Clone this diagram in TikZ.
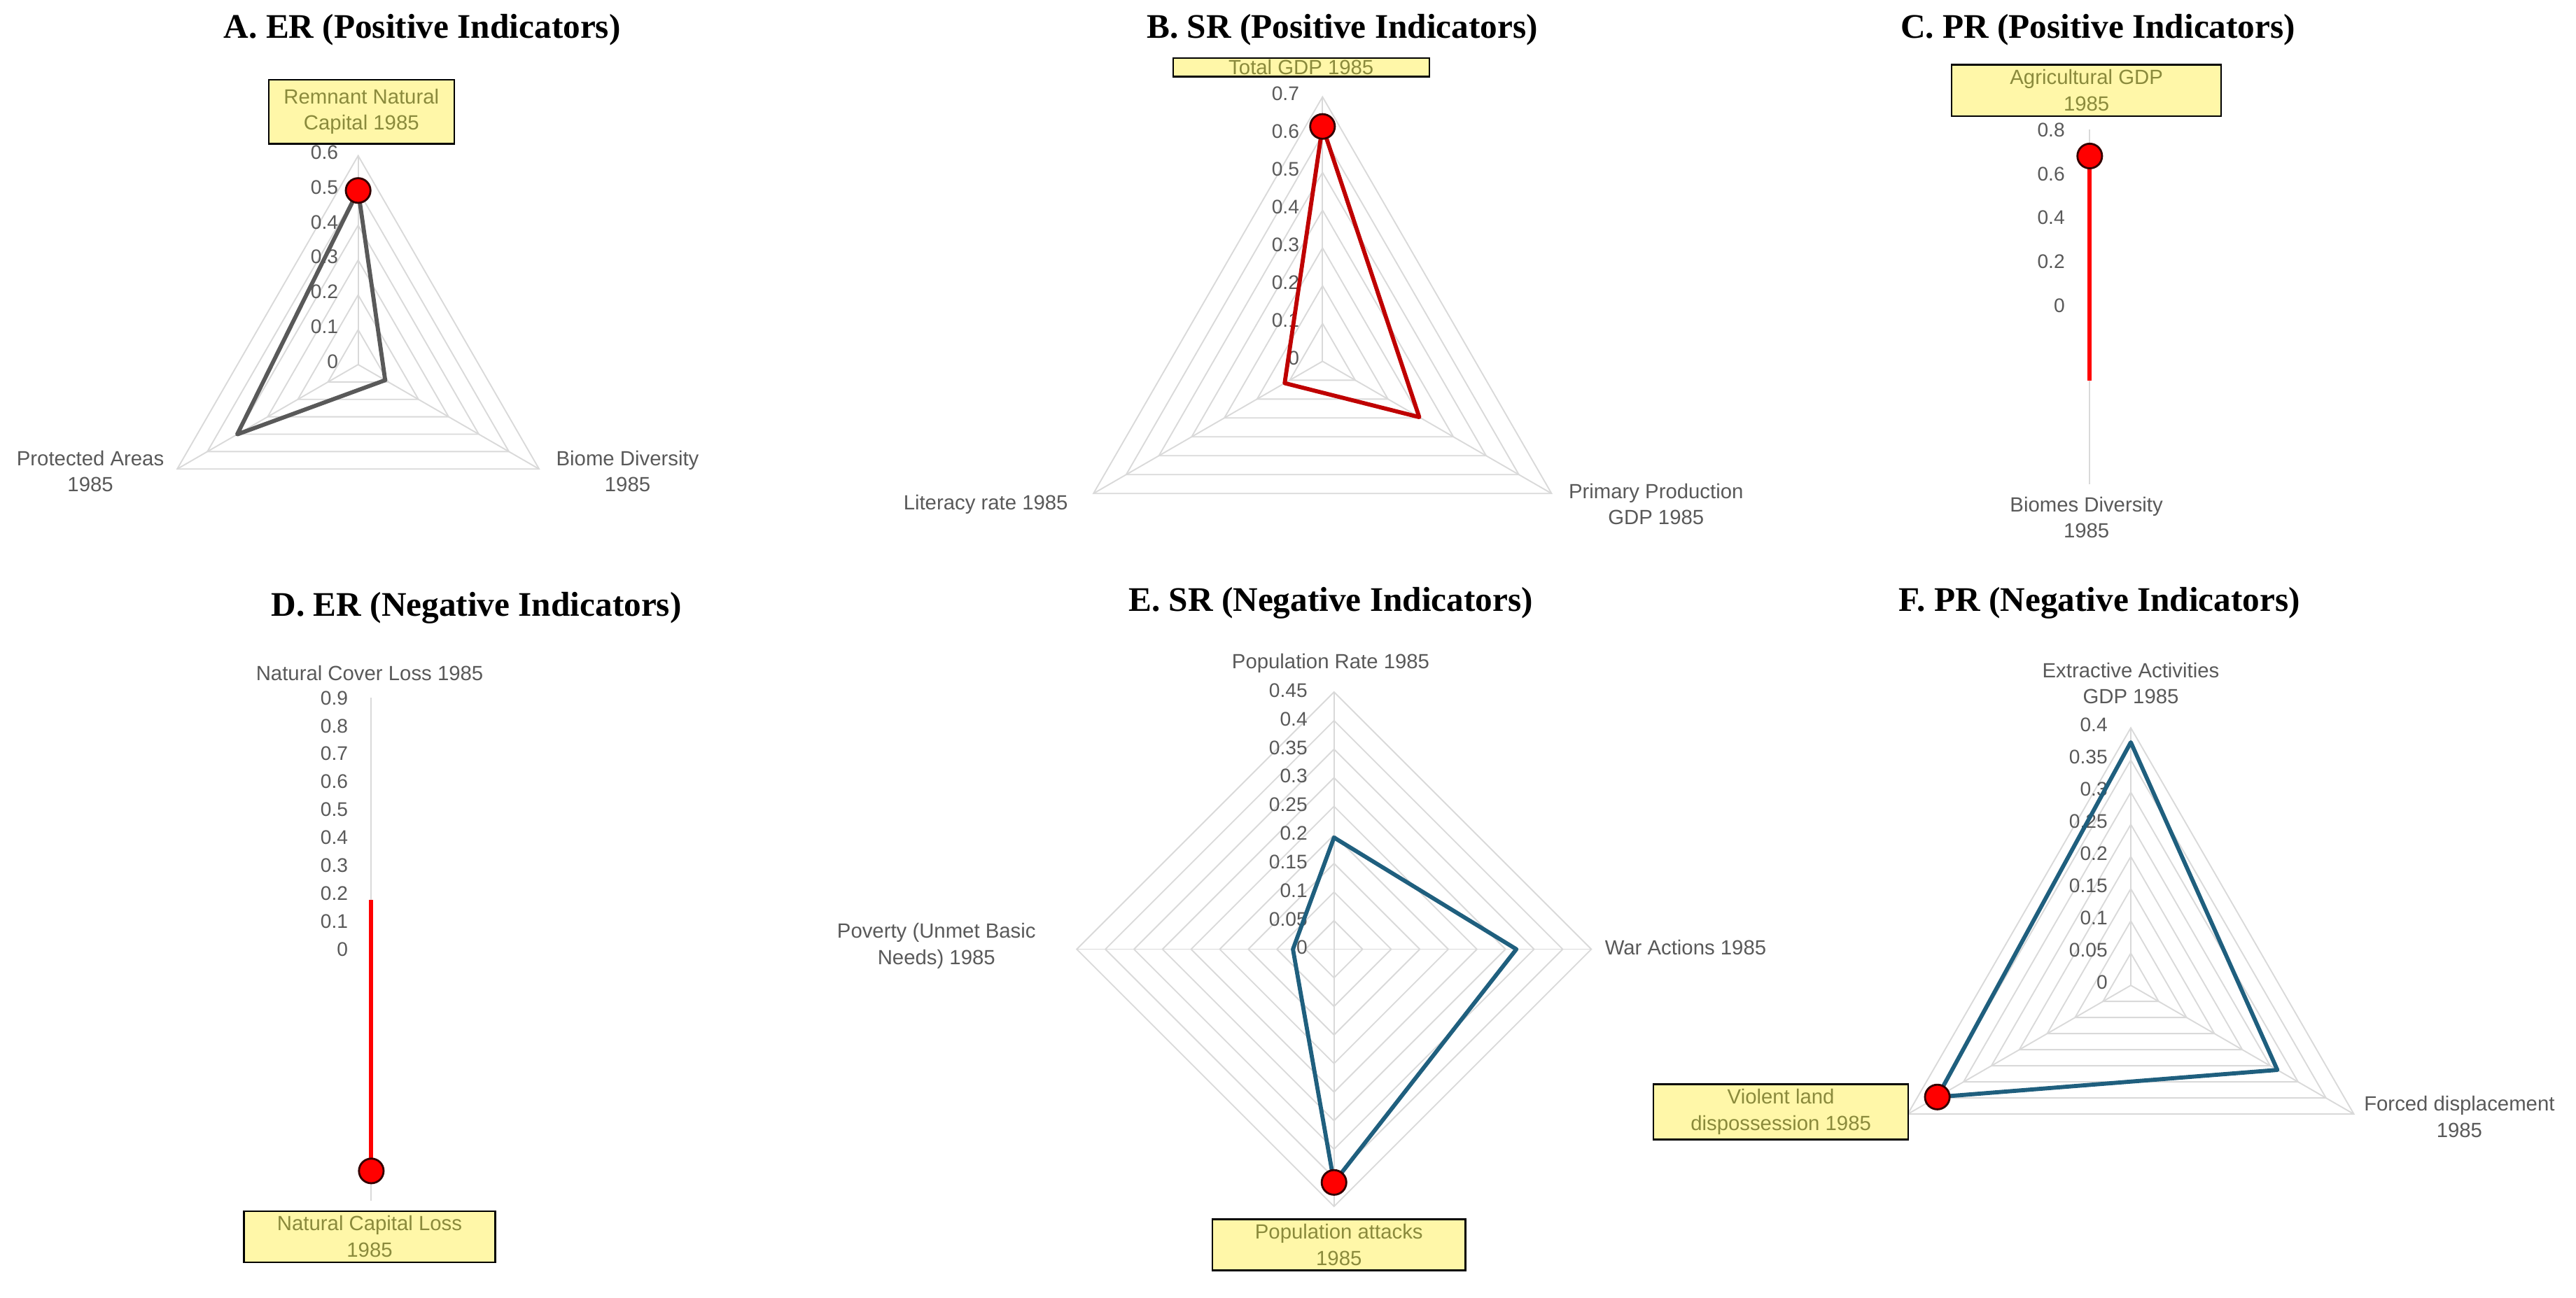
\documentclass[tikz,border=0pt]{standalone}
\usepackage{fontspec}
\setmainfont{Liberation Sans}
\newfontfamily\titlefont{Liberation Serif}
\definecolor{teal1}{HTML}{1F5F7E}
\definecolor{olv}{HTML}{8A8A3C}
\definecolor{hly}{HTML}{FFF7A8}
\begin{document}
\begin{tikzpicture}[x=1pt,y=1pt,
  ring/.style={draw=black!15,line width=0.8pt},
  tick/.style={font=\fontsize{12}{13}\selectfont,text=black!65,anchor=east,inner sep=0pt},
  lab/.style={font=\fontsize{12.5}{16}\selectfont,text=black!65,align=center,inner sep=1pt},
  hl/.style={font=\fontsize{12.5}{16}\selectfont,text=olv,align=center,fill=hly,draw=black,line width=1pt,inner sep=3pt},
  ttl/.style={font=\titlefont\bfseries\fontsize{21}{23}\selectfont},
  dot/.style={circle,fill=red,draw=black!80!red,line width=1.2pt,minimum size=15pt,inner sep=0pt},
  dataA/.style={draw=black!65,line width=2.5pt,line join=round},
  dataB/.style={draw=red!75!black,line width=2.5pt,line join=round},
  dataE/.style={draw=teal1,line width=2.5pt,line join=round}]
\useasboundingbox (0,0) rectangle (1568,-790);
% titles
\node[ttl] (tA) at (257,-18) {A. ER (Positive Indicators)};
\node[ttl] (tB) at (817,-18) {B. SR (Positive Indicators)};
\node[ttl] (tC) at (1277,-18) {C. PR (Positive Indicators)};
\node[ttl] (tD) at (290,-370) {D. ER (Negative Indicators)};
\node[ttl] (tE) at (810,-367) {E. SR (Negative Indicators)};
\node[ttl] (tF) at (1278,-367) {F. PR (Negative Indicators)};
% ---- A
\begin{scope}[shift={(218,-222)}]
\foreach \k in {1,...,6}{\draw[ring] (90:\k*21.2)--(210:\k*21.2)--(330:\k*21.2)--cycle;}
\foreach \a in {90,210,330}{\draw[ring] (0,0)--(\a:127.2);}
\foreach \k/\t in {0/0,1/0.1,2/0.2,3/0.3,4/0.4,5/0.5,6/0.6}{\node[tick] at (-12,\k*21.2+2) {\t};}
\coordinate (a1) at (90:106);\coordinate (a2) at (210:85);\coordinate (a3) at (330:19);
\draw[dataA] (a1)--(a2)--(a3)--cycle;
\node[dot] (pA) at (a1) {};
\end{scope}
\node[hl,minimum width=113pt,minimum height=39pt] (hA) at (220,-68) {Remnant Natural\\Capital 1985};
\node[lab] (lA2) at (55,-287) {Protected Areas\\1985};
\node[lab] (lA3) at (382,-287) {Biome Diversity\\1985};
% ---- B
\begin{scope}[shift={(805,-220)}]
\foreach \k in {1,...,7}{\draw[ring] (90:\k*23)--(210:\k*23)--(330:\k*23)--cycle;}
\foreach \a in {90,210,330}{\draw[ring] (0,0)--(\a:161);}
\foreach \k/\t in {0/0,1/0.1,2/0.2,3/0.3,4/0.4,5/0.5,6/0.6,7/0.7}{\node[tick] at (-14,\k*23+2) {\t};}
\coordinate (b1) at (90:143);\coordinate (b2) at (210:26.6);\coordinate (b3) at (330:68);
\draw[dataB] (b1)--(b2)--(b3)--cycle;
\node[dot] (pB) at (b1) {};
\end{scope}
\node[hl,inner ysep=1pt,minimum width=156pt] (hB) at (792,-41) {Total GDP 1985};
\node[lab] (lB2) at (600,-307) {Literacy rate 1985};
\node[lab] (lB3) at (1008,-307) {Primary Production\\GDP 1985};
% ---- C
\begin{scope}[shift={(1272,-186)}]
\coordinate (c0) at (0,107);\coordinate (c4) at (0,-109);
\draw[ring] (c0)--(c4);
\foreach \k/\t in {0/0,1/0.2,2/0.4,3/0.6,4/0.8}{\node[tick] at (-15,\k*26.7) {\t};}
\coordinate (c1) at (0,91);\coordinate (c2) at (0,-46);
\draw[draw=red,line width=2.5pt] (c1)--(c2);
\node[dot] (pC) at (c1) {};
\end{scope}
\node[hl,minimum width=164pt,minimum height=30pt] (hC) at (1270,-55) {Agricultural GDP\\1985};
\node[lab] (lC2) at (1270,-315) {Biomes Diversity\\1985};
% ---- D
\begin{scope}[shift={(226,-578)}]
\coordinate (d0) at (0,153);\coordinate (d4) at (0,-153);
\draw[ring] (d0)--(d4);
\foreach \k/\t in {0/0,1/0.1,2/0.2,3/0.3,4/0.4,5/0.5,6/0.6,7/0.7,8/0.8,9/0.9}{\node[tick] at (-14,\k*17) {\t};}
\coordinate (d1) at (0,30);\coordinate (d2) at (0,-135);
\draw[draw=red,line width=2.5pt] (d1)--(d2);
\node[dot] (pD) at (d2) {};
\end{scope}
\node[lab] (lD1) at (225,-410) {Natural Cover Loss 1985};
\node[hl,minimum width=153pt] (hD) at (225,-753) {Natural Capital Loss\\1985};
% ---- E
\begin{scope}[shift={(812,-578)}]
\foreach \k in {1,...,9}{\draw[ring] (90:\k*17.4)--(0:\k*17.4)--(270:\k*17.4)--(180:\k*17.4)--cycle;}
\foreach \a in {0,90,180,270}{\draw[ring] (0,0)--(\a:156.6);}
\foreach \k/\t in {0/0,1/0.05,2/0.1,3/0.15,4/0.2,5/0.25,6/0.3,7/0.35,8/0.4,9/0.45}{\node[tick] at (-16,\k*17.4+1) {\t};}
\coordinate (e1) at (90:68);\coordinate (e2) at (0:111);\coordinate (e3) at (270:142);\coordinate (e4) at (180:25);
\draw[dataE] (e1)--(e2)--(e3)--(e4)--cycle;
\node[dot] (pE) at (e3) {};
\end{scope}
\node[lab] (lE1) at (810,-404) {Population Rate 1985};
\node[lab] (lE2) at (1026,-577) {War Actions 1985};
\node[lab] (lE4) at (570,-576) {Poverty (Unmet Basic\\Needs) 1985};
\node[hl,minimum width=154pt] (hE) at (815,-758) {Population attacks\\1985};
% ---- F
\begin{scope}[shift={(1297,-600)}]
\foreach \k in {1,...,8}{\draw[ring] (90:\k*19.6)--(210:\k*19.6)--(330:\k*19.6)--cycle;}
\foreach \a in {90,210,330}{\draw[ring] (0,0)--(\a:156.8);}
\foreach \k/\t in {0/0,1/0.05,2/0.1,3/0.15,4/0.2,5/0.25,6/0.3,7/0.35,8/0.4}{\node[tick] at (-14,\k*19.6+2) {\t};}
\coordinate (f1) at (90:148);\coordinate (f2) at (210:136);\coordinate (f3) at (330:103);
\draw[dataE] (f1)--(f2)--(f3)--cycle;
\node[dot] (pF) at (f2) {};
\end{scope}
\node[lab] (lF1) at (1297,-416) {Extractive Activities\\GDP 1985};
\node[lab] (lF3) at (1497,-680) {Forced displacement\\1985};
\node[hl,minimum width=155pt] (hF) at (1084,-677) {Violent land\\dispossession 1985};
\end{tikzpicture}
\end{document}
